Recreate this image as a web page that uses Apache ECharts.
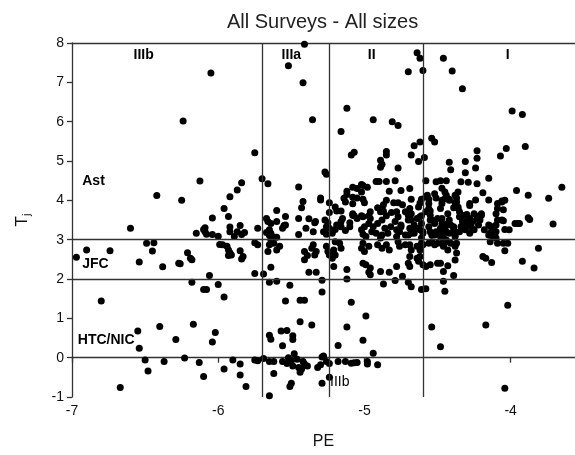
<!DOCTYPE html>
<html>
<head>
<meta charset="utf-8">
<script src="https://cdn.jsdelivr.net/npm/echarts@6/dist/echarts.min.js"></script>
<style>
  html, body { margin: 0; padding: 0; background: #fff; }
  #chart { width: 575px; height: 455px; }
</style>
</head>
<body>
<div id="chart"></div>
<script>
// Comet population scatter: perihelion-energy index PE vs Tisserand parameter T_j.
// Points grouped by dynamical zone (IIIb, IIIa, II, I) as [PE, Tj].
const zoneIIIb = [
  [-6.05,7.24],[-6.24,6.02],[-5.75,5.21],[-6.125,4.49],[-5.84,4.45],[-5.87,4.26],[-5.92,4.09],[-6.42,4.12],
  [-6.25,4.00],[-5.96,3.79],[-6.04,3.55],[-5.93,3.59],[-5.85,3.36],[-5.92,3.32],[-6.09,3.30],[-6.60,3.29],
  [-5.73,3.29],[-6.09,3.20],[-6.08,3.14],[-6.15,3.16],[-6.04,3.13],[-6.00,3.09],[-5.92,3.20],[-5.89,3.08],
  [-5.84,3.13],[-5.82,3.18],[-6.10,3.26],[-5.87,3.20],
  [-5.97,2.87],[-5.94,2.83],[-5.93,2.74],[-5.92,2.67],[-5.91,2.61],[-5.93,2.60],[-5.99,2.88],[-5.85,2.72],
  [-5.83,2.57],[-5.84,2.51],[-5.75,2.92],[-5.73,2.87],
  [-6.21,2.67],[-6.19,2.53],[-6.18,2.49],[-6.26,2.39],[-5.75,2.14],[-6.06,2.09],[-6.18,1.92],[-6.10,1.73],
  [-6.08,1.73],[-6.00,1.86],[-5.96,1.54],
  [-6.97,2.55],[-6.90,2.74],[-6.74,2.72],[-6.49,2.91],[-6.44,2.92],[-6.45,2.71],[-6.54,2.43],[-6.38,2.31],
  [-6.27,2.40],[-6.80,1.44],
  [-6.17,0.85],[-6.40,0.79],[-6.55,0.68],[-6.02,0.64],[-6.04,0.40],[-6.29,0.46],[-6.54,0.24],[-6.50,-0.06],
  [-6.48,-0.34],[-6.37,-0.10],[-6.23,-0.01],[-6.13,-0.12],[-6.10,-0.48],[-5.96,-0.29],[-5.90,-0.06],
  [-5.85,-0.16],[-5.85,-0.44],[-5.81,-0.73],[-5.75,-0.06],[-5.73,-0.08],[-6.67,-0.76]
];

const zoneIIIa = [
  [-5.70,4.55],[-5.66,4.42],[-5.52,7.42],[-5.41,7.97],[-5.42,6.99],[-5.355,6.05],[-5.27,4.72],[-5.26,4.66],
  [-5.45,4.34],[-5.42,3.97],[-5.30,4.06],[-5.30,4.01],[-5.43,3.81],[-5.60,3.74],[-5.67,3.54],[-5.64,3.41],
  [-5.54,3.59],[-5.55,3.36],[-5.45,3.54],[-5.38,3.53],[-5.335,3.46],[-5.27,3.50],[-5.24,3.94],
  [-5.66,3.46],[-5.60,3.46],[-5.65,3.25],[-5.67,3.18],[-5.64,3.16],[-5.65,3.11],[-5.62,3.07],[-5.60,3.06],
  [-5.64,3.00],[-5.54,3.37],[-5.56,3.29],[-5.45,3.13],[-5.40,3.29],[-5.35,3.20],[-5.34,3.43],
  [-5.65,2.87],[-5.62,2.91],[-5.58,2.83],[-5.60,2.74],[-5.66,2.70],[-5.41,2.70],[-5.39,2.60],[-5.41,2.49],
  [-5.69,2.13],[-5.64,2.30],[-5.65,1.92],[-5.60,1.94],[-5.51,1.84],[-5.54,1.44],[-5.44,1.46],[-5.41,1.46],
  [-5.35,2.87],[-5.36,2.78],[-5.33,2.70],[-5.34,2.61],[-5.26,2.83],[-5.25,2.70],[-5.38,2.17],[-5.33,2.17],
  [-5.29,1.97],[-5.29,1.67],
  [-5.44,0.91],[-5.36,0.83],[-5.57,0.68],[-5.53,0.69],[-5.65,0.57],[-5.64,0.47],[-5.49,0.56],[-5.49,0.46],
  [-5.56,0.30],[-5.48,0.10],[-5.28,0.04],
  [-5.69,-0.02],[-5.65,-0.10],[-5.62,-0.10],[-5.56,-0.10],[-5.52,0.00],[-5.50,-0.08],[-5.53,-0.15],
  [-5.49,-0.21],[-5.46,-0.04],[-5.45,-0.25],[-5.43,-0.29],[-5.44,-0.37],[-5.42,-0.10],[-5.41,-0.16],
  [-5.39,-0.21],[-5.32,-0.25],[-5.30,-0.18],[-5.29,0.02],[-5.26,-0.10],[-5.24,-0.15],[-5.62,-0.40],
  [-5.50,-0.65],[-5.51,-0.73],[-5.29,-0.65],[-5.24,-0.50],[-5.65,-0.97]
];

const zoneII = [
  [-5.12,6.34],[-5.16,5.75],[-4.94,6.05],[-4.81,6.00],[-4.77,5.90],[-4.70,7.27],[-4.64,7.75],[-4.62,7.61],
  [-4.66,5.39],[-4.62,5.48],[-4.63,4.99],[-4.68,5.15],[-5.07,5.22],[-5.09,5.15],[-4.85,5.24],[-4.85,5.15],
  [-4.89,5.02],[-4.88,4.92],[-4.89,4.84],[-4.77,4.82],
  [-4.92,4.48],[-4.90,4.48],[-4.85,4.48],[-4.79,4.50],[-5.02,4.40],[-4.98,4.33],[-5.05,4.30],[-5.12,4.23],
  [-4.69,4.30],[-4.83,4.23],[-4.75,4.25],[-5.01,4.38],[-5.02,4.21],[-5.08,4.33],[-5.12,4.15],[-5.14,4.05],
  [-5.13,3.96],[-5.08,4.08],[-5.05,4.06],[-5.01,4.03],[-5.00,3.94],[-5.08,3.91],[-4.85,4.00],[-4.87,3.89],
  [-4.88,3.79],[-4.80,3.94],[-4.77,3.94],[-4.68,4.03],[-4.61,4.03],[-4.62,3.93],[-4.63,3.83],
  [-5.20,3.83],[-5.19,3.73],[-5.24,3.69],[-5.16,3.73],[-5.08,3.66],[-5.07,3.61],[-5.02,3.61],[-4.96,3.71],
  [-4.97,3.61],[-4.91,3.81],[-4.89,3.71],[-4.87,3.72],[-4.85,3.61],[-4.815,3.69],[-4.78,3.71],[-4.74,3.89],
  [-4.72,3.71],[-4.69,3.79],[-4.68,3.66],[-4.61,3.61],
  [-5.25,3.43],[-5.26,3.33],[-5.24,3.29],[-5.28,3.20],[-5.26,3.14],[-5.22,3.16],[-5.20,3.26],[-5.19,3.37],
  [-5.16,3.46],[-5.15,3.54],[-5.16,3.33],[-5.13,3.23],[-5.10,3.33],[-5.10,3.43],
  [-5.08,3.62],[-5.05,3.54],[-5.01,3.58],[-4.96,3.54],[-4.97,3.41],[-5.00,3.33],[-5.02,3.25],[-5.01,3.14],
  [-4.99,3.08],[-4.95,3.20],[-4.94,3.33],[-4.91,3.41],[-4.88,3.50],[-4.86,3.29],[-4.84,3.16],[-4.88,3.12],
  [-4.92,3.16],[-4.89,3.04],[-4.82,3.33],[-4.79,3.46],[-4.77,3.58],[-4.75,3.37],[-4.76,3.20],[-4.72,3.12],
  [-4.78,3.08],[-4.70,3.50],[-4.69,3.29],[-4.68,3.16],[-4.66,3.37],[-4.64,3.54],[-4.62,3.25],[-4.60,3.16],
  [-4.61,3.04],
  [-4.70,3.62],[-4.68,3.50],[-4.67,3.25],[-4.66,3.16],[-4.70,3.12],[-4.62,3.58],[-4.61,3.41],[-4.63,3.29],
  [-4.60,3.20],[-4.75,3.33],[-4.78,3.25],[-4.61,2.91],
  [-5.24,2.61],[-5.21,2.74],[-5.20,2.61],[-5.22,2.53],[-5.17,2.91],[-5.16,2.78],[-5.20,2.95],[-5.01,2.91],
  [-5.02,2.78],[-5.00,2.70],[-4.97,2.83],[-4.91,2.87],[-4.88,2.78],[-4.85,2.87],[-4.83,2.74],[-4.77,2.95],
  [-4.76,2.83],[-4.72,2.87],[-4.69,2.87],[-4.68,2.74],[-4.64,2.83],[-4.62,2.74],[-4.60,2.87],[-4.69,2.57],
  [-4.64,2.53],[-4.63,2.45],
  [-5.01,2.40],[-4.99,2.36],[-4.96,2.28],[-4.97,2.17],[-4.96,2.11],[-5.21,2.32],[-5.12,2.24],[-5.12,2.00],
  [-4.89,2.19],[-4.83,2.17],[-4.78,2.32],[-4.74,2.07],[-4.70,2.40],[-4.69,2.32],[-4.62,2.57],[-4.60,2.36],
  [-4.87,1.87],[-4.68,1.80],[-4.61,1.73],[-4.70,1.92],[-4.79,1.96],[-5.09,1.41],[-4.99,1.06],[-5.12,0.78],
  [-5.18,0.31],[-5.01,0.44],[-4.94,0.11],[-4.98,-0.10],[-4.98,-0.16],[-4.91,-0.18],[-5.05,-0.12],
  [-5.09,-0.14],[-5.18,-0.10],[-5.13,-0.10],[-5.07,-0.13]
];

const zoneI = [
  [-4.60,7.30],[-4.46,7.61],[-4.40,7.29],[-4.33,6.84],[-3.99,6.27],[-3.92,6.18],[-3.90,5.37],[-4.03,5.32],
  [-4.07,5.13],[-4.54,5.58],[-4.52,5.48],[-4.59,5.09],[-4.42,4.97],[-4.41,4.78],[-4.31,4.99],[-4.23,5.26],
  [-4.23,5.07],[-4.31,4.70],[-4.24,4.82],[-4.15,4.56],[-3.96,4.25],[-3.88,4.13],[-3.74,4.05],[-3.65,4.33],
  [-4.58,4.50],[-4.51,4.47],[-4.48,4.50],[-4.44,4.50],[-4.34,4.47],[-4.29,4.46],[-4.23,4.42],
  [-4.57,4.13],[-4.56,4.03],[-4.56,3.92],[-4.52,4.17],[-4.51,4.06],[-4.47,4.00],[-4.47,3.92],[-4.56,3.79],
  [-4.55,3.73],[-4.47,4.31],[-4.45,4.21],[-4.44,4.13],[-4.42,4.03],[-4.36,4.21],[-4.37,4.06],[-4.38,3.94],
  [-4.37,3.83],[-4.19,4.19],[-4.24,4.01],[-4.28,3.92],[-4.15,4.01],[-4.04,4.00],[-4.06,3.96],[-4.09,3.92],
  [-4.05,3.76],[-4.10,3.66],[-4.20,3.66],[-4.21,3.61],[-4.30,3.64],[-4.33,3.61],[-4.39,3.81],[-4.36,3.80],
  [-4.48,3.79],[-3.88,3.56],
  [-4.58,4.09],[-4.45,4.04],[-4.42,4.00],[-4.38,4.13],[-4.37,3.96],[-4.06,3.98],[-4.09,3.79],[-4.28,3.87],
  [-3.87,3.51],[-3.71,3.40],[-3.95,3.41],[-4.05,3.48],[-4.01,3.25],[-4.04,3.26],[-4.09,3.50],[-4.10,3.37],
  [-4.12,3.29],[-4.14,3.35],[-4.18,3.25],[-4.14,3.16],[-4.12,3.08],[-4.14,2.95],[-4.09,2.91],[-4.05,2.91],
  [-4.02,2.91],[-4.04,2.72],[-3.81,2.78],[-4.19,2.57],[-4.17,2.53],[-4.13,2.42],[-3.92,2.45],[-3.84,2.28],
  [-4.10,3.04],[-4.15,3.12],
  [-4.35,3.58],[-4.31,3.62],[-4.28,3.54],[-4.26,3.46],[-4.23,3.58],[-4.21,3.50],[-4.20,3.62],[-4.30,3.41],
  [-4.33,3.33],[-4.27,3.33],[-4.25,3.25],[-4.35,3.20],[-4.39,3.33],[-4.43,3.41],[-4.45,3.29],[-4.47,3.20],
  [-4.42,3.16],[-4.38,3.08],[-4.44,2.99],[-4.47,2.91],[-4.41,2.91],[-4.38,2.83],[-4.43,2.74],[-4.37,2.66],
  [-4.48,2.40],[-4.43,2.34],[-4.46,2.19],[-4.39,2.09],[-4.46,1.94],[-4.45,1.69],[-4.38,2.48],
  [-4.56,3.33],[-4.55,3.50],[-4.52,3.41],[-4.51,3.20],[-4.47,3.54],[-4.47,3.29],[-4.48,3.08],[-4.54,3.12],
  [-4.54,2.95],[-4.52,2.87],[-4.50,2.91],[-4.46,2.83],[-4.58,2.32],[-4.55,2.36],[-4.50,2.40],[-4.58,1.75],
  [-4.58,3.71],[-4.55,3.62],[-4.54,3.50],[-4.55,3.20],[-4.52,3.12],[-4.50,3.54],[-4.47,3.41],[-4.48,3.29],
  [-4.45,3.33],[-4.44,3.20],[-4.46,3.12],[-4.42,3.50],[-4.41,3.37],[-4.43,3.66],[-4.39,3.25],[-4.38,3.12],
  [-4.36,3.83],[-4.35,3.71],[-4.34,3.58],[-4.33,3.46],[-4.34,3.33],[-4.31,3.25],[-4.30,3.37],[-4.29,3.50],
  [-4.28,3.16],[-4.25,3.66],[-4.23,3.54],[-4.22,3.37],[-4.15,3.37],[-4.13,3.29],[-4.10,3.20],[-4.06,3.50],
  [-3.97,3.41],[-3.94,3.41],[-4.56,2.91],[-4.45,2.93],[-4.37,2.91],
  [-4.02,1.33],[-4.17,0.83],[-4.54,0.78],[-4.48,0.28],[-4.04,-0.78]
];

// Zone boundaries
const boundaryPE = [-5.70, -5.24, -4.60];
const boundaryTj = [2, 3];

// Axis ranges and ticks
const peRange = [-7, -3.56];
const tjRange = [-1, 8];
const tickStep = 1;

// Zone / family annotations: [PE, Tj, text, bold]
const zoneLabels = [
  [-6.51, 7.68, 'IIIb', true],
  [-5.50, 7.68, 'IIIa', true],
  [-4.95, 7.68, 'II', true],
  [-4.02, 7.68, 'I', true],
  [-6.93, 4.50, 'Ast', true],
  [-6.93, 2.38, 'JFC', true],
  [-6.96, 0.44, 'HTC/NIC', true],
  [-5.235, -0.62, 'IIIb', false]
];

const FONT = '"Liberation Sans", Arial, sans-serif';
const INK = '#111';

const chart = echarts.init(document.getElementById('chart'), null, { renderer: 'canvas' });

const pointStyle = { color: '#000', opacity: 1 };
const zones = [zoneIIIb, zoneIIIa, zoneII, zoneI];

const series = zones.map((pts) => ({
  type: 'scatter',
  data: pts,
  symbol: 'circle',
  symbolSize: 7,
  itemStyle: pointStyle,
  silent: true,
  animation: false
}));

series.push({
  type: 'scatter',
  data: [],
  silent: true,
  animation: false,
  markLine: {
    silent: true,
    symbol: ['none', 'none'],
    label: { show: false },
    lineStyle: { color: '#333', width: 1.3, type: 'solid' },
    data: boundaryPE.map(v => ({ xAxis: v })).concat(boundaryTj.map(v => ({ yAxis: v })))
  }
});

const leftAligned = ['Ast', 'JFC', 'HTC/NIC'];
series.push({
  type: 'scatter',
  data: zoneLabels.map(l => ({
    value: [l[0], l[1]],
    label: {
      show: true,
      formatter: l[2],
      position: 'inside',
      align: (leftAligned.includes(l[2]) || !l[3]) ? 'left' : 'center',
      verticalAlign: 'middle',
      fontWeight: l[3] ? 'bold' : 'normal',
      fontSize: 14,
      fontFamily: FONT,
      color: '#000'
    }
  })),
  symbolSize: 0,
  itemStyle: { opacity: 1 },
  silent: true,
  animation: false,
  z: 5
});

chart.setOption({
  backgroundColor: '#fff',
  animation: false,
  title: {
    text: 'All Surveys - All sizes',
    left: 222,
    top: 7,
    textStyle: { fontFamily: FONT, fontSize: 20, fontWeight: 'normal', color: '#222' }
  },
  grid: { left: 72, right: 0, top: 43, bottom: 55 },
  xAxis: [{
    type: 'value',
    min: peRange[0],
    max: peRange[1],
    interval: tickStep,
    name: 'PE',
    nameLocation: 'middle',
    nameGap: 37,
    nameTextStyle: { fontFamily: FONT, fontSize: 16, color: INK },
    axisLine: { lineStyle: { color: '#333', width: 1.3 } },
    axisTick: { show: true, inside: false, length: 5, lineStyle: { color: '#333', width: 1.3 } },
    axisLabel: { fontFamily: FONT, fontSize: 14, color: INK, margin: 7, showMaxLabel: false },
    splitLine: { show: false }
  }, {
    type: 'value',
    position: 'top',
    min: peRange[0],
    max: peRange[1],
    axisLine: { show: true, lineStyle: { color: '#333', width: 1.3 } },
    axisTick: { show: false },
    axisLabel: { show: false },
    splitLine: { show: false }
  }],
  yAxis: {
    type: 'value',
    min: tjRange[0],
    max: tjRange[1],
    interval: tickStep,
    name: '{t|T}{s|j}',
    nameLocation: 'middle',
    nameRotate: 90,
    nameGap: 40,
    nameTextStyle: {
      rich: {
        t: { fontFamily: FONT, fontSize: 17, color: INK },
        s: { fontFamily: FONT, fontSize: 11, color: INK, verticalAlign: 'bottom', padding: [9, 0, 0, 0] }
      }
    },
    axisLine: { show: true, lineStyle: { color: '#333', width: 1.3 } },
    axisTick: { show: true, inside: false, length: 5, lineStyle: { color: '#333', width: 1.3 } },
    axisLabel: { fontFamily: FONT, fontSize: 14, color: INK, margin: 8 },
    splitLine: { show: false }
  },
  series: series
});
</script>
</body>
</html>
